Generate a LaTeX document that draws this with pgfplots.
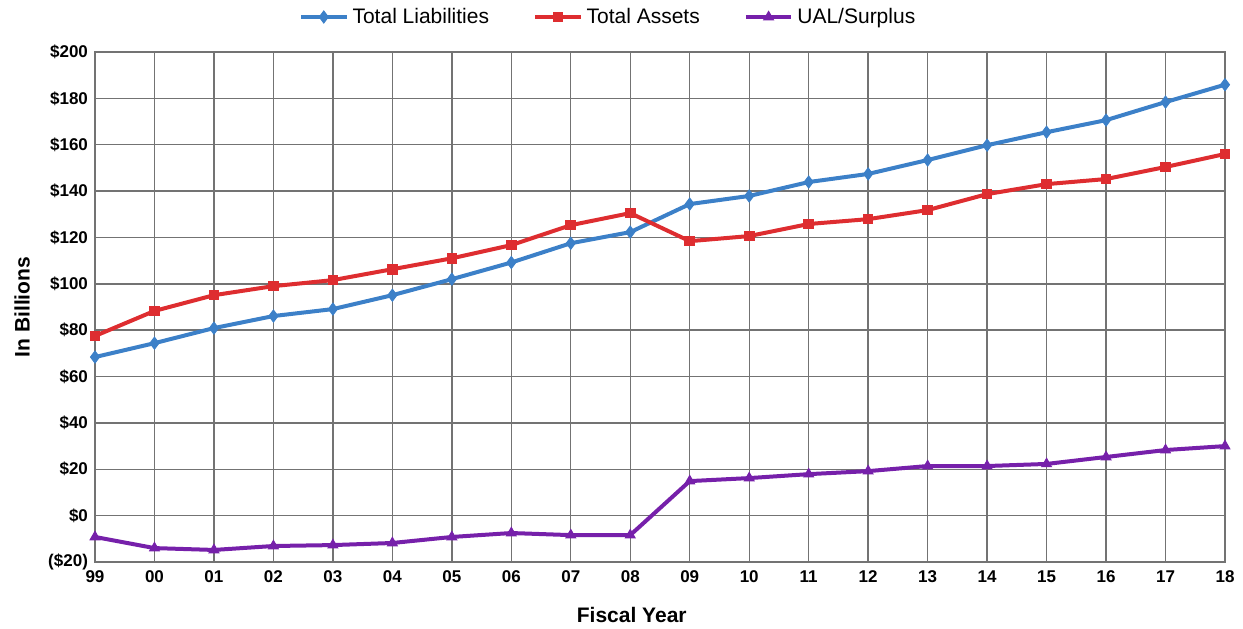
\documentclass[border=0pt]{standalone}
\usepackage{pgfplots}
\pgfplotsset{compat=1.18}
\usepackage{fontspec}
\setmainfont{Liberation Sans}
\definecolor{cblue}{RGB}{60,128,200}
\definecolor{cred}{RGB}{222,45,48}
\definecolor{cpurple}{RGB}{118,32,170}
\definecolor{cgrid}{RGB}{115,115,115}
\begin{document}
\begin{tikzpicture}
\begin{axis}[
  scale only axis,
  width=565pt, height=255pt,
  xmin=0, xmax=19, ymin=-20, ymax=200,
  xtick={0,...,19},
  xticklabels={99,00,01,02,03,04,05,06,07,08,09,10,11,12,13,14,15,16,17,18},
  ytick={-20,0,20,40,60,80,100,120,140,160,180,200},
  yticklabels={(\$20),\$0,\$20,\$40,\$60,\$80,\$100,\$120,\$140,\$160,\$180,\$200},
  tick label style={font=\fontsize{8.5}{9.5}\selectfont\bfseries},
  xticklabel style={yshift=-1pt},
  grid=major,
  major grid style={cgrid, line width=0.7pt},
  axis line style={cgrid, line width=0.8pt},
  tick style={draw=none},
  xlabel={Fiscal Year},
  ylabel={In Billions},
  label style={font=\fontsize{10.5}{12}\selectfont\bfseries},
  xlabel style={at={(axis description cs:0.475,0)}, anchor=center, yshift=-26.5pt},
  ylabel style={at={(axis description cs:-0.0646,0.5)}, anchor=center},
  legend columns=3,
  legend style={draw=none, fill=none, at={(0.455,1.0686)}, anchor=center,
    font=\fontsize{10.5}{12}\selectfont, /tikz/every even column/.append style={column sep=20pt}},
  legend image code/.code={
    \draw[#1, mark repeat=2, mark phase=2] plot coordinates {(0cm,0cm) (0.4cm,0cm) (0.8cm,0cm)};},
]
\addplot[color=cblue, line width=2pt, mark=diamond*, mark size=3pt, mark options={fill=cblue, line width=0.5pt}]
coordinates {(0,68.4)(1,74.4)(2,80.9)(3,86.1)(4,89.1)(5,95.1)(6,102.0)(7,109.2)(8,117.5)(9,122.3)(10,134.4)(11,137.9)(12,143.9)(13,147.4)(14,153.4)(15,159.8)(16,165.4)(17,170.6)(18,178.4)(19,185.9)};
\addlegendentry{Total Liabilities}
\addplot[color=cred, line width=2pt, mark=square*, mark size=2.4pt, mark options={fill=cred, line width=0.5pt}]
coordinates {(0,77.5)(1,88.3)(2,95.1)(3,99.0)(4,101.6)(5,106.3)(6,111.0)(7,116.7)(8,125.3)(9,130.5)(10,118.4)(11,120.6)(12,125.8)(13,127.9)(14,131.8)(15,138.7)(16,143.0)(17,145.2)(18,150.4)(19,156.0)};
\addlegendentry{Total Assets}
\addplot[color=cpurple, line width=2pt, mark=triangle*, mark size=2.8pt, mark options={fill=cpurple, line width=0.5pt}]
coordinates {(0,-9.2)(1,-14.0)(2,-14.8)(3,-13.1)(4,-12.7)(5,-11.8)(6,-9.2)(7,-7.5)(8,-8.4)(9,-8.4)(10,14.9)(11,16.2)(12,17.9)(13,19.2)(14,21.4)(15,21.4)(16,22.3)(17,25.3)(18,28.3)(19,30.0)};
\addlegendentry{UAL/Surplus}
\end{axis}
\pgfresetboundingbox
\path ([shift={(-47.5pt,-33pt)}]current axis.south west) rectangle ([shift={(9pt,26pt)}]current axis.north east);
\end{tikzpicture}
\end{document}
